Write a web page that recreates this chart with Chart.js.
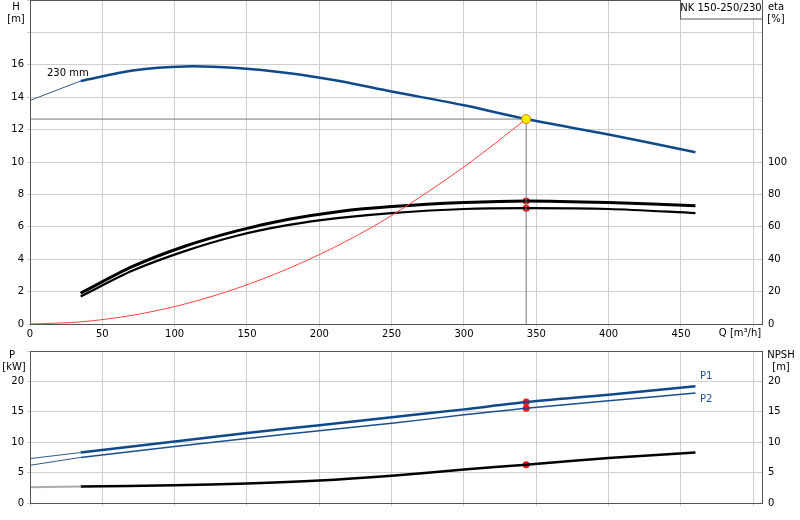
<!DOCTYPE html>
<html><head><meta charset="utf-8">
<script src="https://cdn.jsdelivr.net/npm/chart.js@4"></script>
<style>body{margin:0;background:#fff;overflow:hidden}#a{position:absolute;left:0;top:-9px}#b{position:absolute;left:0;top:340px}</style>
</head><body>
<div id="a" style="width:800px;height:349px"><canvas id="c1"></canvas></div>
<div id="b" style="width:800px;height:180px"><canvas id="c2"></canvas></div>
<script>
const qH=[35,71,107,143,178,214,250,300,343,400,460];
const H=[15.0,15.65,15.9,15.8,15.5,15.0,14.35,13.5,12.65,11.7,10.6];
const qHext=[0,35]; const Hext=[13.8,15.0];
const qEta=[35,71,107,143,178,214,250,300,343,400,460];
const etaP=[19,35.5,48,57.5,64.5,69.5,72.5,75,76,75,73];
const etaT=[17,33,45,54.5,61,65.5,68.5,71,71.5,71,68.5];
const qSys=[0,35,71,107,143,178,214,250,300,343];
const Hsys=[0,0.13,0.54,1.23,2.2,3.4,4.9,6.7,9.7,12.65];
const qDuty=343, Hduty=12.65, etaDutyP=76, etaDutyT=71.5;
const qP=[35,100,150,200,250,300,343,400,460];
const P1=[8.3,10.1,11.5,12.8,14.1,15.4,16.6,17.8,19.2];
const P2=[7.5,9.3,10.6,11.9,13.1,14.5,15.6,16.8,18.1];
const qPext=[0,35]; const P1ext=[7.3,8.3]; const P2ext=[6.2,7.5];
const qN=[35,100,150,200,250,300,343,400,460];
const NPSH=[2.7,2.9,3.2,3.7,4.5,5.5,6.3,7.4,8.3];
const qNext=[0,35]; const Next=[2.6,2.7];
const xTicks=[0,50,100,150,200,250,300,350,400,450];
const pts=(xs,ys)=>xs.map((x,i)=>({x,y:ys[i]}));
const F='"DejaVu Sans", sans-serif';
Chart.defaults.font.family=F; Chart.defaults.font.size=10; Chart.defaults.color='#000';
Chart.defaults.animation=false;
const line=(data,color,w,axis,extra)=>Object.assign({data,borderColor:color,borderWidth:w,pointRadius:0,yAxisID:axis,tension:0.3,fill:false},extra||{});
const dot=(data,color,axis,r)=>({type:'scatter',data,backgroundColor:color,borderColor:color,borderWidth:0,pointRadius:r||3.5,yAxisID:axis,showLine:false});
const grid={color:'#cfcfcf',lineWidth:1};
const xScale=(show)=>({type:'linear',min:0,max:506,afterBuildTicks:s=>{s.ticks=[...xTicks,500].map(v=>({value:v}))},
  ticks:{display:show,callback:v=>v===500?'':v,maxRotation:0,padding:1},grid:Object.assign({},grid,{drawTicks:true,tickLength:3}),border:{color:'#555'},
  afterFit:s=>{s.height=show?16:17}});
const txt=(ctx,t,x,y,al,col)=>{ctx.save();ctx.font='10px '+F;ctx.fillStyle=col||'#000';ctx.textAlign=al||'left';ctx.textBaseline='middle';ctx.fillText(t,x,y);ctx.restore();};
const frame={id:'frame',afterDraw(c){const a=c.chartArea,ctx=c.ctx;ctx.save();ctx.strokeStyle='#555';ctx.lineWidth=1;ctx.strokeRect(a.left+0.5,a.top+0.5,a.right-a.left,a.bottom-a.top);ctx.restore();}};
const D=9;
const top1={id:'top1',afterDraw(c){const ctx=c.ctx,x=c.scales.x,y=c.scales.y;
  txt(ctx,'H',16,7+D,'center');txt(ctx,'[m]',16,19+D,'center');
  txt(ctx,'eta',776,7+D,'center');txt(ctx,'[%]',776,19+D,'center');
  txt(ctx,'230 mm',47,73+D);
  txt(ctx,'Q [m³/h]',740,333+D,'center');
  ctx.save();ctx.fillStyle='#fff';ctx.strokeStyle='#555';ctx.fillRect(680,D,82,19);ctx.strokeRect(680.5,D-1,82,20);ctx.restore();
  txt(ctx,'NK 150-250/230',721,8+D,'center');
  ctx.save();ctx.strokeStyle='#777';ctx.lineWidth=1;ctx.beginPath();
  const px=x.getPixelForValue(qDuty),py=y.getPixelForValue(Hduty);
  ctx.moveTo(x.left,py);ctx.lineTo(px,py);ctx.moveTo(px,py);ctx.lineTo(px,y.bottom);ctx.stroke();
  ctx.fillStyle='#ffee00';ctx.strokeStyle='#e08000';ctx.beginPath();ctx.arc(px,py,4.5,0,7);ctx.fill();ctx.stroke();ctx.restore();
}};
new Chart(document.getElementById('c1'),{type:'line',
 data:{datasets:[
  line(pts(qSys,Hsys),'#ff4040',1,'y'),
  line(pts(qHext,Hext),'#335a8a',1,'y',{tension:0}),
  line(pts(qH,H),'#0e4a8a',2.5,'y'),
  line(pts(qEta,etaT),'#000',2.2,'y2'),
  line(pts(qEta,etaP),'#000',3,'y2'),
  line(pts(qEta,etaP),'#fff',1,'y2'),
  dot([{x:qDuty,y:etaDutyP},{x:qDuty,y:etaDutyT}],'#ff1010','y2')
 ]},
 options:{responsive:true,maintainAspectRatio:false,layout:{padding:0},
  plugins:{legend:{display:false},tooltip:{enabled:false}},
  scales:{x:xScale(true),
   y:{min:0,max:20,ticks:{stepSize:2,callback:v=>v>16?'':v,padding:3},grid:Object.assign({},grid,{tickLength:3}),border:{color:'#555'},afterFit:s=>{s.width=30}},
   y2:{position:'right',min:0,max:200,ticks:{stepSize:20,callback:v=>v>100?'':v,padding:2},grid:{display:false,drawTicks:true,tickLength:4},border:{color:'#555'},afterFit:s=>{s.width=38}}}},
 plugins:[frame,top1]});
const bot={id:'bot',afterDraw(c){const ctx=c.ctx;
  txt(ctx,'P',12,15,'center');txt(ctx,'[kW]',14,27,'center');
  txt(ctx,'NPSH',781,15,'center');txt(ctx,'[m]',781,27,'center');
  txt(ctx,'P1',700,36,'left','#1a4f8f');txt(ctx,'P2',700,59,'left','#1a4f8f');
}};
new Chart(document.getElementById('c2'),{type:'line',
 data:{datasets:[
  line(pts(qPext,P1ext),'#335a8a',1,'y',{tension:0}),
  line(pts(qPext,P2ext),'#335a8a',1,'y',{tension:0}),
  line(pts(qP,P1),'#0e4a8a',2.5,'y'),
  line(pts(qP,P2),'#1a4f8f',1.5,'y'),
  line(pts(qNext,Next),'#aaa',2,'y2',{tension:0}),
  line(pts(qN,NPSH),'#000',2.5,'y2'),
  dot([{x:qDuty,y:16.6},{x:qDuty,y:15.6}],'#ff1010','y'),
  dot([{x:qDuty,y:6.3}],'#ff1010','y2')
 ]},
 options:{responsive:true,maintainAspectRatio:false,layout:{padding:{top:11}},
  plugins:{legend:{display:false},tooltip:{enabled:false}},
  scales:{x:xScale(false),
   y:{min:0,max:25,ticks:{stepSize:5,callback:v=>v>20?'':v,padding:3},grid:Object.assign({},grid,{tickLength:3}),border:{color:'#555'},afterFit:s=>{s.width=30}},
   y2:{position:'right',min:0,max:25,ticks:{stepSize:5,callback:v=>v>20?'':v,padding:2},grid:{display:false,tickLength:4},border:{color:'#555'},afterFit:s=>{s.width=38}}}},
 plugins:[frame,bot]});
</script></body></html>
